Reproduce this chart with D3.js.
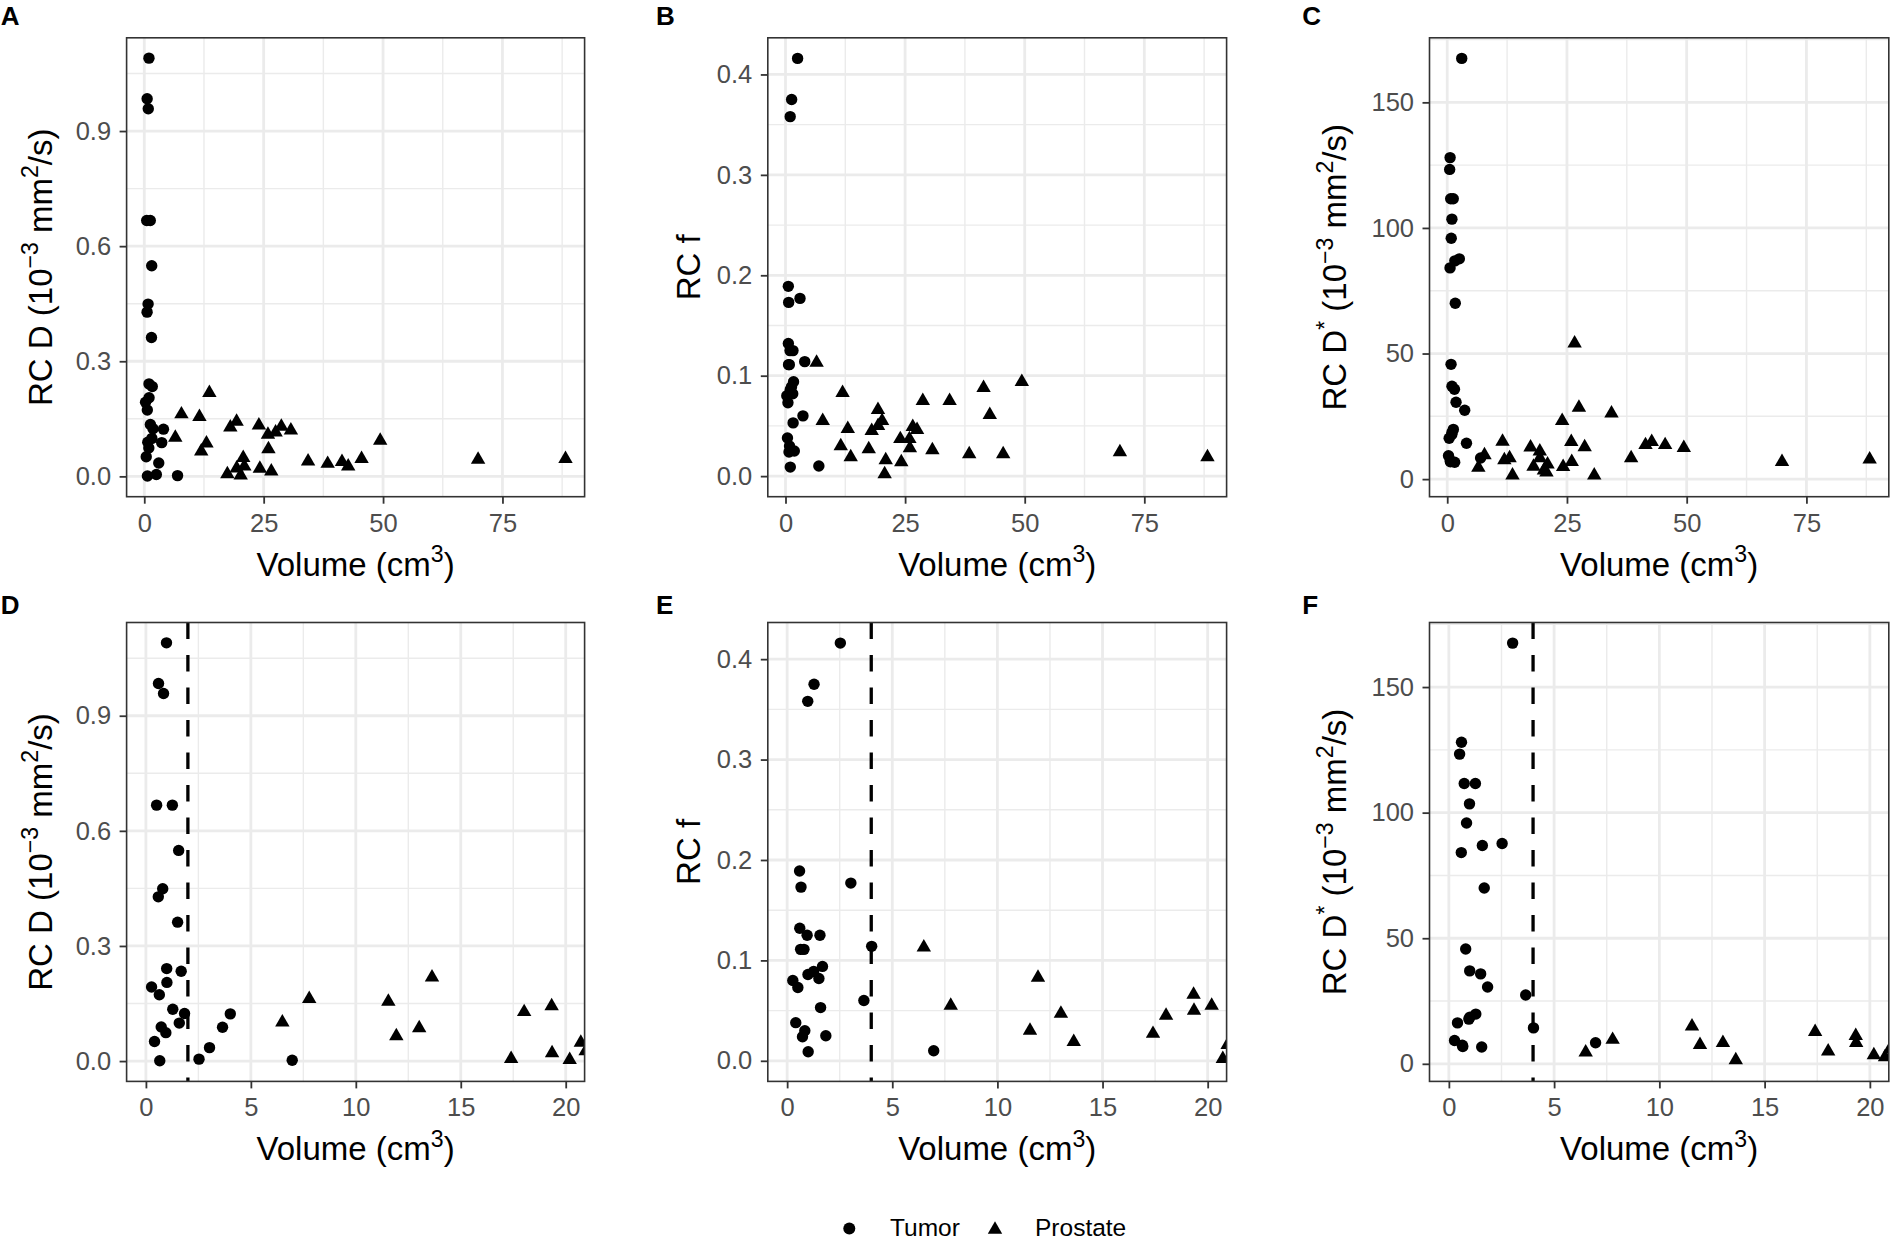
<!DOCTYPE html>
<html><head><meta charset="utf-8">
<script src="https://cdn.jsdelivr.net/npm/d3@7"></script>
<style>
html,body{margin:0;padding:0;background:#fff;}
svg{display:block;font-family:"Liberation Sans",Arial,Helvetica,sans-serif;}
</style></head><body>
<svg id="chart" width="1890" height="1241"></svg>
<script>
// ---------------- data ----------------
const groups = ["Tumor", "Prostate"];

const tumorVolume = [0.27,0.41,0.51,0.59,0.60,0.64,0.66,0.73,0.80,0.84,0.95,0.98,0.99,1.00,1.26,1.28,1.51,1.56,1.59,1.68,1.84,2.53,3.03,3.65,4.02,6.97];
const tumorD      = [0.193,0.051,0.667,0.428,0.984,0.173,0.001,0.089,0.449,0.958,0.074,1.090,0.241,0.205,0.667,0.135,0.362,0.549,0.099,0.234,0.124,0.005,0.035,0.088,0.123,0.002];
const tumorF      = [0.080,0.038,0.073,0.189,0.132,0.111,0.173,0.024,0.111,0.030,0.125,0.358,0.086,0.009,0.089,0.375,0.082,0.125,0.053,0.094,0.025,0.416,0.177,0.060,0.114,0.010];
const tumorDstar  = [9.3,16.3,123.3,84.1,128.0,7.4,6.9,111.6,45.7,95.9,17.8,103.5,37.0,18.6,111.6,19.8,35.8,6.7,86.9,70.0,30.6,87.7,167.5,27.4,14.3,8.4];

const prostateVolume = [6.50,7.78,11.55,11.93,13.02,13.63,17.40,18.02,19.33,19.35,20.19,20.72,20.95,24.0,24.2,25.9,26.0,26.6,27.5,28.7,30.7,34.3,38.4,41.4,42.7,45.5,49.4,69.9,88.2];
const prostateD      = [0.101,0.162,0.155,0.065,0.086,0.218,0.006,0.128,0.143,0.021,0.003,0.048,0.026,0.133,0.020,0.109,0.071,0.013,0.115,0.130,0.120,0.039,0.033,0.038,0.026,0.046,0.093,0.044,0.046];
const prostateF      = [0.113,0.055,0.030,0.083,0.047,0.019,0.027,0.045,0.066,0.050,0.055,0.002,0.016,0.037,0.014,0.037,0.028,0.049,0.046,0.075,0.026,0.075,0.022,0.088,0.061,0.022,0.094,0.024,0.019];
const prostateDstar  = [4.6,9.6,14.9,7.6,8.4,1.5,12.7,5.0,11.1,8.4,3.5,2.7,5.9,23.2,4.9,14.8,6.9,54.1,28.5,12.8,1.5,26.2,8.4,13.6,14.8,13.6,12.5,6.9,7.9];

const xTicksFull = [0,25,50,75];
const xMinorFull = [12.5,37.5,62.5,87.5];
const xTicksZoom = [0,5,10,15,20];
const xMinorZoom = [2.5,7.5,12.5,17.5];
const xDomainFull = [-3.7, 92.2];
const xDomainZoom = [-0.92, 20.9];

const yTicksD = [0,0.3,0.6,0.9];
const yLabelsD = ["0.0","0.3","0.6","0.9"];
const yMinorD = [0.15,0.45,0.75,1.05];
const yDomainD = [-0.053, 1.143];

const yTicksF = [0,0.1,0.2,0.3,0.4];
const yLabelsF = ["0.0","0.1","0.2","0.3","0.4"];
const yMinorF = [0.05,0.15,0.25,0.35];
const yDomainF = [-0.0205, 0.4365];

const yTicksDstar = [0,50,100,150];
const yLabelsDstar = ["0","50","100","150"];
const yMinorDstar = [25,75,125,175];
const yDomainDstar = [-7.0, 175.7];

const cutoffD = 2, cutoffF = 4, cutoffDstar = 4;

// ---------------- layout ----------------
const cols = [
  {x0:126.6, x1:584.6, lab:0.7,   yt:51.5},
  {x0:767.8, x1:1226.6, lab:656,  yt:700.3},
  {x0:1429.5, x1:1888.8, lab:1302.2, yt:1346.4}
];
const rows = [
  {y0:37.8, y1:496.7, lab:25},
  {y0:622.5, y1:1081.4, lab:613.7}
];

const metrics = [
  {tumor:tumorD, prostate:prostateD, yTicks:yTicksD, yLabels:yLabelsD, yMinor:yMinorD, yDomain:yDomainD, title:"D", cutoff:cutoffD},
  {tumor:tumorF, prostate:prostateF, yTicks:yTicksF, yLabels:yLabelsF, yMinor:yMinorF, yDomain:yDomainF, title:"f", cutoff:cutoffF},
  {tumor:tumorDstar, prostate:prostateDstar, yTicks:yTicksDstar, yLabels:yLabelsDstar, yMinor:yMinorDstar, yDomain:yDomainDstar, title:"Dstar", cutoff:cutoffDstar}
];
const panelLetters = [["A","B","C"],["D","E","F"]];

const svg = d3.select("#chart");
svg.append("rect").attr("width",1890).attr("height",1241).attr("fill","#fff");

const TICK_FS = 25.5, TITLE_FS = 33, LABEL_FS = 26;
const circleR = 5.7;
const triSym = d3.symbol().type(d3.symbolTriangle).size(90);

function addYTitle(g, kind, x, y) {
  const t = g.append("text")
    .attr("transform", `translate(${x},${y}) rotate(-90)`)
    .attr("text-anchor","middle")
    .attr("font-size", TITLE_FS).attr("fill","#000");
  if (kind === "f") { t.text("RC f"); return; }
  t.append("tspan").text("RC D");
  if (kind === "Dstar") {
    t.append("tspan").attr("font-size", TITLE_FS*0.7).attr("dy", -TITLE_FS*0.42).text("*");
    t.append("tspan").attr("dy", TITLE_FS*0.42).text(" (10");
  } else {
    t.append("tspan").text(" (10");
  }
  t.append("tspan").attr("font-size", TITLE_FS*0.7).attr("dy", -TITLE_FS*0.42).text("\u22123");
  t.append("tspan").attr("dy", TITLE_FS*0.42).text(" mm");
  t.append("tspan").attr("font-size", TITLE_FS*0.7).attr("dy", -TITLE_FS*0.42).text("2");
  t.append("tspan").attr("dy", TITLE_FS*0.42).text("/s)");
}

function addXTitle(g, x, y) {
  const t = g.append("text").attr("x", x).attr("y", y)
    .attr("text-anchor","middle").attr("font-size", TITLE_FS).attr("fill","#000");
  t.append("tspan").text("Volume (cm");
  t.append("tspan").attr("font-size", TITLE_FS*0.7).attr("dy", -TITLE_FS*0.42).text("3");
  t.append("tspan").attr("dy", TITLE_FS*0.42).text(")");
}

rows.forEach((row, ri) => {
  cols.forEach((col, ci) => {
    const m = metrics[ci];
    const zoomed = ri === 1;
    const x = d3.scaleLinear().domain(zoomed ? xDomainZoom : xDomainFull).range([col.x0, col.x1]);
    const y = d3.scaleLinear().domain(m.yDomain).range([row.y1, row.y0]);
    const xT = zoomed ? xTicksZoom : xTicksFull;
    const xM = zoomed ? xMinorZoom : xMinorFull;
    const g = svg.append("g");
    const clipId = `clip${ri}${ci}`;
    g.append("clipPath").attr("id", clipId).append("rect")
      .attr("x", col.x0).attr("y", row.y0).attr("width", col.x1-col.x0).attr("height", row.y1-row.y0);
    const pg = g.append("g").attr("clip-path", `url(#${clipId})`);
    pg.append("rect").attr("x", col.x0).attr("y", row.y0).attr("width", col.x1-col.x0).attr("height", row.y1-row.y0).attr("fill","#fff");
    // minor grid
    pg.selectAll(null).data(xM).enter().append("line")
      .attr("x1", d=>x(d)).attr("x2", d=>x(d)).attr("y1", row.y0).attr("y2", row.y1)
      .attr("stroke","#EBEBEB").attr("stroke-width",1.4);
    pg.selectAll(null).data(m.yMinor).enter().append("line")
      .attr("y1", d=>y(d)).attr("y2", d=>y(d)).attr("x1", col.x0).attr("x2", col.x1)
      .attr("stroke","#EBEBEB").attr("stroke-width",1.4);
    // major grid
    pg.selectAll(null).data(xT).enter().append("line")
      .attr("x1", d=>x(d)).attr("x2", d=>x(d)).attr("y1", row.y0).attr("y2", row.y1)
      .attr("stroke","#EBEBEB").attr("stroke-width",2.8);
    pg.selectAll(null).data(m.yTicks).enter().append("line")
      .attr("y1", d=>y(d)).attr("y2", d=>y(d)).attr("x1", col.x0).attr("x2", col.x1)
      .attr("stroke","#EBEBEB").attr("stroke-width",2.8);
    // points
    const tum = tumorVolume.map((v,i)=>({x:v, y:m.tumor[i]}));
    const pro = prostateVolume.map((v,i)=>({x:v, y:m.prostate[i]}));
    pg.selectAll(null).data(tum).enter().append("circle")
      .attr("cx", d=>x(d.x)).attr("cy", d=>y(d.y)).attr("r", circleR).attr("fill","#000");
    pg.selectAll(null).data(pro).enter().append("path")
      .attr("d", triSym).attr("transform", d=>`translate(${x(d.x)},${y(d.y)})`).attr("fill","#000");
    // cutoff line
    if (zoomed) {
      pg.append("line").attr("x1", x(m.cutoff)).attr("x2", x(m.cutoff))
        .attr("y1", row.y0).attr("y2", row.y1)
        .attr("stroke","#000").attr("stroke-width",3.3).attr("stroke-dasharray","16.5,16");
    }
    // border
    g.append("rect").attr("x", col.x0).attr("y", row.y0).attr("width", col.x1-col.x0).attr("height", row.y1-row.y0)
      .attr("fill","none").attr("stroke","#333333").attr("stroke-width",1.6);
    // axes
    const ax = g.append("g").attr("transform", `translate(0,${row.y1})`)
      .call(d3.axisBottom(x).tickValues(xT).tickSize(7).tickPadding(10).tickFormat(d3.format("d")));
    const ay = g.append("g").attr("transform", `translate(${col.x0},0)`)
      .call(d3.axisLeft(y).tickValues(m.yTicks).tickSize(7).tickPadding(8.5).tickFormat((d,i)=>m.yLabels[i]));
    [ax, ay].forEach(a => {
      a.select(".domain").remove();
      a.selectAll(".tick line").attr("stroke","#333333").attr("stroke-width",1.8);
      a.selectAll(".tick text").attr("fill","#4D4D4D").attr("font-size", TICK_FS)
        .attr("font-family",'"Liberation Sans",Arial,Helvetica,sans-serif');
    });
    // titles
    addXTitle(g, (col.x0+col.x1)/2, row.y1 + 79);
    addYTitle(g, m.title, col.yt, (row.y0+row.y1)/2);
    // panel letter
    g.append("text").attr("x", col.lab).attr("y", row.lab).attr("font-size", LABEL_FS)
      .attr("font-weight","bold").attr("fill","#000").text(panelLetters[ri][ci]);
  });
});

// legend
const lg = svg.append("g");
const legendItems = [
  {name: groups[0], sx: 849.3, tx: 890},
  {name: groups[1], sx: 995, tx: 1035}
];
legendItems.forEach((it, i) => {
  if (i === 0) lg.append("circle").attr("cx", it.sx).attr("cy", 1228.5).attr("r", circleR+0.3).attr("fill","#000");
  else lg.append("path").attr("d", triSym).attr("transform", `translate(${it.sx},1229.5)`).attr("fill","#000");
  lg.append("text").attr("x", it.tx).attr("y", 1236).attr("font-size", 24.5).attr("fill","#000").text(it.name);
});
</script>
</body></html>
